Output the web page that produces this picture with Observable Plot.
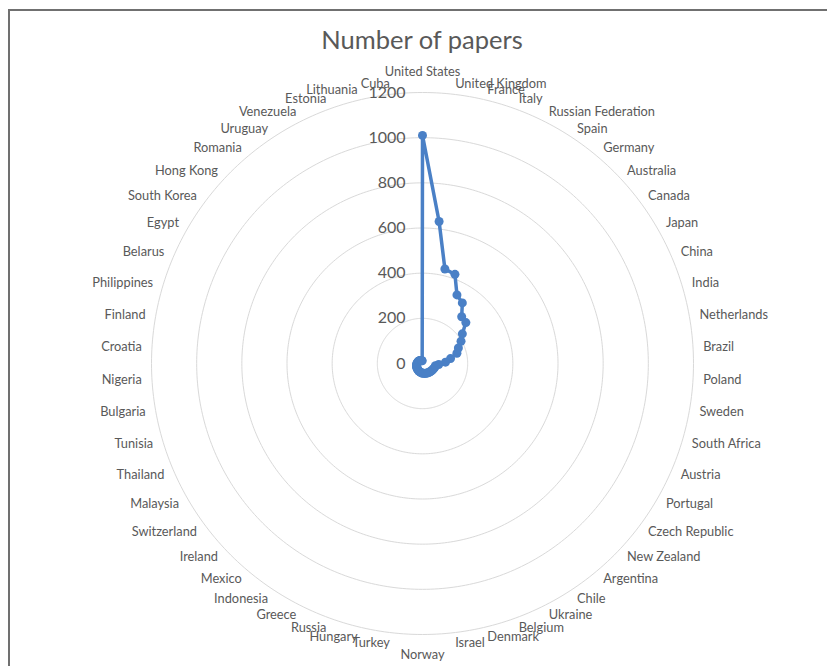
<!DOCTYPE html>
<html>
<head>
<meta charset="utf-8">
<script src="https://cdn.jsdelivr.net/npm/d3@7"></script>
<script src="https://cdn.jsdelivr.net/npm/@observablehq/plot@0.6"></script>
<style>
  html, body { margin: 0; padding: 0; background: #fff; }
  #chart { position: relative; width: 827px; height: 666px; overflow: hidden; font-family: Lato, "Open Sans", sans-serif; }
  #frame { position: absolute; left: 8px; top: 9px; right: -10px; bottom: -10px; border-left: 2px solid #707070; border-top: 2px solid #707070; }
  #title { position: absolute; left: 0; width: 844px; top: 24px; text-align: center; font-size: 25.5px; color: #595959; }
  #plot { position: absolute; left: 0; top: 56px; }
  #plot svg { overflow: visible; }
</style>
</head>
<body>
<div id="chart">
  <div id="frame"></div>
  <div id="title">Number of papers</div>
  <div id="plot"></div>
</div>
<script>
// Countries, clockwise from the top of the radar
const countries = [
  "United States", "United Kingdom", "France", "Italy", "Russian Federation", "Spain",
  "Germany", "Australia", "Canada", "Japan", "China", "India", "Netherlands", "Brazil",
  "Poland", "Sweden", "South Africa", "Austria", "Portugal", "Czech Republic",
  "New Zealand", "Argentina", "Chile", "Ukraine", "Belgium", "Denmark", "Israel",
  "Norway", "Turkey", "Hungary", "Russia", "Greece", "Indonesia", "Mexico", "Ireland",
  "Switzerland", "Malaysia", "Thailand", "Tunisia", "Bulgaria", "Nigeria", "Croatia",
  "Finland", "Philippines", "Belarus", "Egypt", "South Korea", "Hong Kong", "Romania",
  "Uruguay", "Venezuela", "Estonia", "Lithuania", "Cuba"
];

// Number of papers per country
const papers = [
  1010, 633, 430, 420, 340, 321,
  270, 264, 220, 197, 173, 159, 126, 102,
  72, 58, 57, 55, 53, 52,
  50, 49, 48, 47, 46, 45, 44,
  43, 41, 40, 38, 37, 35, 34, 32,
  31, 30, 29, 27, 26, 25, 24,
  23, 22, 21, 20, 19, 18, 17,
  16, 15, 14, 13, 12
];

// Radial axis ticks
const ticks = [0, 200, 400, 600, 800, 1000, 1200];

const maxValue = 1200;
const lineColor = "#4a80c6";
const textColor = "#595959";

// Polar layout on an azimuthal projection centred on the pole:
// angle -> longitude, value -> distance from the pole (in degrees).
const degPerUnit = 12 / maxValue;
const step = 360 / countries.length;
const lat = (v) => 90 - v * degPerUnit;

const rows = countries.map((country, i) => ({
  country,
  papers: papers[i],
  angle: i * step,
  lon: 180 - i * step
}));

const labelRadius = 1245;   // category labels sit just outside the outer ring
const poleRadius = 1290;

const rightLabels = rows.filter((d) => d.angle > 0 && d.angle < 180);
const leftLabels = rows.filter((d) => d.angle > 180);
const topLabel = rows.filter((d) => d.angle === 0);
const bottomLabel = rows.filter((d) => d.angle === 180);

const labelSize = 12.8;

const chart = Plot.plot({
  width: 827,
  height: 610,
  marginLeft: 151,
  marginRight: 134,
  marginTop: 36,
  marginBottom: 32,
  style: { fontFamily: "Lato, 'Open Sans', sans-serif", color: textColor, background: "transparent", overflow: "visible" },
  projection: {
    type: "azimuthal-equidistant",
    rotate: [0, -90],
    clip: false,
    domain: d3.geoCircle().center([0, 90]).radius(maxValue * degPerUnit)()
  },
  marks: [
    // concentric gridlines
    Plot.geo(ticks.filter((t) => t > 0), {
      geometry: (t) => d3.geoCircle().center([0, 90]).radius(t * degPerUnit).precision(1)(),
      stroke: "#d9d9d9",
      strokeWidth: 1,
      fill: "none"
    }),
    // radial axis labels
    Plot.text(ticks, {
      x: 180,
      y: (t) => lat(t),
      text: (t) => String(t),
      textAnchor: "end",
      dx: -17,
      fontSize: 16,
      fill: textColor
    }),
    // series
    Plot.line(rows, {
      x: "lon",
      y: (d) => lat(d.papers),
      curve: "linear-closed",
      stroke: lineColor,
      strokeWidth: 3.5,
      strokeLinejoin: "round"
    }),
    Plot.dot(rows, {
      x: "lon",
      y: (d) => lat(d.papers),
      r: 4.5,
      fill: lineColor,
      stroke: "none"
    }),
    // category labels
    Plot.text(rightLabels, {
      x: "lon", y: () => lat(labelRadius), text: "country",
      textAnchor: "start", fontSize: labelSize, fill: textColor
    }),
    Plot.text(leftLabels, {
      x: "lon", y: () => lat(labelRadius), text: "country",
      textAnchor: "end", fontSize: labelSize, fill: textColor
    }),
    Plot.text(topLabel, {
      x: "lon", y: () => lat(poleRadius), text: "country",
      textAnchor: "middle", fontSize: labelSize, fill: textColor
    }),
    Plot.text(bottomLabel, {
      x: "lon", y: () => lat(poleRadius), text: "country",
      textAnchor: "middle", fontSize: labelSize, fill: textColor
    })
  ]
});

document.getElementById("plot").appendChild(chart);
</script>
</body>
</html>
